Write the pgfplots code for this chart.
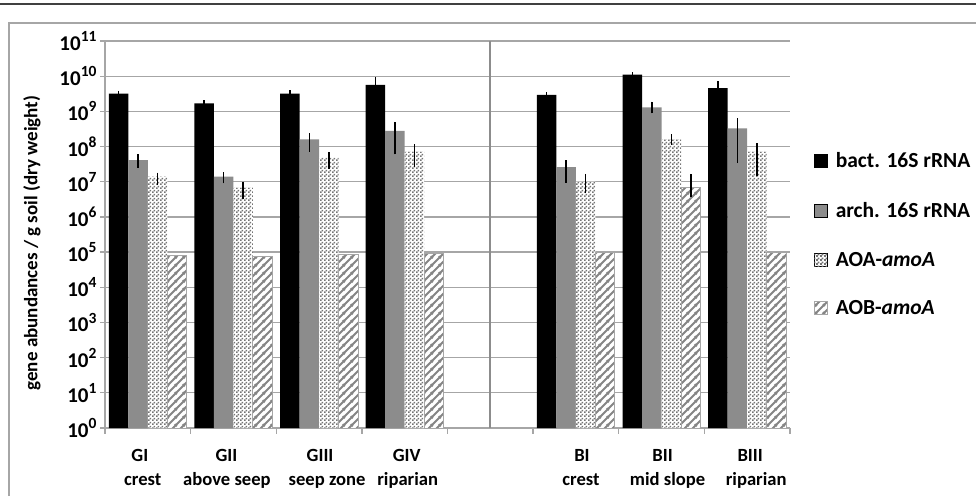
\documentclass[border=0pt]{standalone}
\usepackage{pgfplots}
\pgfplotsset{compat=1.18}
\usepackage{pgfplotstable}
\usetikzlibrary{patterns.meta}
\usepackage{fontspec}
\setmainfont{Carlito}

\tikzdeclarepattern{
  name=mycheck, type=uncolored,
  bounding box={(0pt,0pt) and (4pt,4pt)},
  tile size={(4pt,4pt)},
  code={\fill (0pt,0pt) rectangle (2.1pt,2.1pt); \fill (1.95pt,1.95pt) rectangle (4pt,4pt);}
}
\tikzdeclarepattern{
  name=myhatch, type=uncolored,
  bounding box={(0pt,0pt) and (8pt,8pt)},
  tile size={(8pt,8pt)},
  code={\draw[line width=2.1pt] (-1pt,-1pt) -- (9pt,9pt);
        \draw[line width=2.1pt] (-1pt,7pt) -- (1pt,9pt);
        \draw[line width=2.1pt] (7pt,-1pt) -- (9pt,1pt);}
}

\definecolor{gridg}{HTML}{A6A6A6}
\definecolor{barg}{HTML}{8C8C8C}
\definecolor{patg}{HTML}{858585}
\definecolor{chkfg}{HTML}{747474}

\pgfplotstableread{
x y ep em
0 3.2e9 0.6e9 0.6e9
1 1.7e9 0.34e9 0.34e9
2 3.2e9 0.8e9 0.8e9
3 5.7e9 3.6e9 3.6e9
5 2.95e9 0.6e9 0.6e9
6 1.1e10 0.19e10 0.19e10
7 4.6e9 2.8e9 2.8e9
}\bact
\pgfplotstableread{
x y ep em
0 4.1e7 1.9e7 1.65e7
1 1.4e7 0.46e7 0.5e7
2 1.6e8 0.8e8 0.88e8
3 2.8e8 2.2e8 2.2e8
5 2.6e7 1.5e7 1.67e7
6 1.3e9 0.6e9 0.43e9
7 3.3e8 3.0e8 2.96e8
}\arch
\pgfplotstableread{
x y ep em
0 1.4e7 0.42e7 0.6e7
1 6.8e6 3.2e6 3.6e6
2 4.9e7 2.2e7 2.6e7
3 7.2e7 4.5e7 4.6e7
5 1.0e7 0.66e7 0.53e7
6 1.6e8 0.64e8 0.48e8
7 7.2e7 5.4e7 5.75e7
}\aoa
\pgfplotstableread{
x y ep em
0 7.9e4 0 0
1 7.5e4 0 0
2 8.5e4 0 0
3 9.3e4 0 0
5 9.8e4 0 0
6 6.7e6 1.0e7 3.0e6
7 9.8e4 0 0
}\aob

\begin{document}
\begin{tikzpicture}
\useasboundingbox (0pt,0pt) rectangle (976pt,496pt);
\draw[black!75, line width=1.5pt] (0pt,492pt) -- (976pt,492pt);
\draw[gridg, line width=1.3pt] (9pt,0pt) -- (9pt,473pt) -- (976pt,473pt);
\begin{axis}[
  at={(105pt,68pt)}, anchor=south west,
  scale only axis, width=685pt, height=387pt,
  ymode=log, log basis y=10,
  ymin=1, ymax=1e11,
  ytick={1,1e1,1e2,1e3,1e4,1e5,1e6,1e7,1e8,1e9,1e10,1e11},
  yticklabel={\pgfmathtruncatemacro{\ee}{round(\tick)}10\raisebox{0.42em}{\fontsize{15.5}{16}\selectfont\ee}},
  yticklabel style={font=\bfseries\fontsize{21}{24}\selectfont},
  xmin=-0.5, xmax=7.5,
  xtick={0,...,7},
  xticklabels={
    {GI\hspace*{16pt}\\crest\hspace*{10pt}},
    {GII\hspace*{14pt}\\above seep\hspace*{13pt}},
    {\hspace*{2pt}GIII\\\hspace*{16pt}seep zone},
    {\hspace*{4pt}GIV\\\hspace*{6pt}riparian},
    {},
    {\hspace*{12pt}BI\\\hspace*{10pt}crest},
    {\hspace*{2pt}BII\\\hspace*{12pt}mid slope},
    {\hspace*{6pt}BIII\\\hspace*{18pt}riparian}},
  xticklabel style={align=center, font=\bfseries\fontsize{18.6}{24}\selectfont, yshift=-13pt},
  minor xtick={-0.5,0.5,...,7.5},
  extra x ticks={4}, extra x tick labels={},
  extra x tick style={xmajorgrids=true, major grid style={draw=black!45, line width=2pt}},
  every major x tick/.style={draw=none},
  every minor x tick/.style={gridg, line width=1.3pt},
  every major y tick/.style={gridg, line width=1.3pt},
  major tick length=5pt, minor tick length=6pt,
  tick align=outside,
  ymajorgrids=true,
  major grid style={gridg, line width=1.3pt},
  axis x line*=bottom, axis y line*=left,
  axis line style={gridg, line width=1.3pt, -},
  ybar=0pt, bar width=19.5pt,
  ylabel={gene abundances / g soil (dry weight)},
  ylabel style={font=\bfseries\fontsize{19}{22}\selectfont, at={(axis description cs:-0.1066,0.478)}, anchor=center, rotate=0},
  legend style={at={(1.03,0.722)}, anchor=north west, draw=none, fill=none,
    font=\bfseries\fontsize{21.5}{25}\selectfont, row sep=29pt},
  legend cell align=left,
  legend image code/.code={\draw[#1] (0pt,-6.5pt) rectangle (13pt,6.5pt); \path (19pt,0pt);},
  error bars/y dir=both, error bars/y explicit,
  error bars/error mark=none,
  error bars/error bar style={black, line width=1.6pt},
]
\addplot[fill=black, draw=none] table[x=x, y=y, y error plus=ep, y error minus=em]{\bact};
\addlegendentry{bact. 16S rRNA}
\addplot[fill=barg, draw=none] table[x=x, y=y, y error plus=ep, y error minus=em]{\arch};
\addlegendentry{arch. 16S rRNA}
\addplot[fill=white, draw=none, postaction={pattern=mycheck, pattern color=chkfg}] table[x=x, y=y, y error plus=ep, y error minus=em]{\aoa};
\addlegendentry{AOA-\textit{amoA}}
\addplot[fill=white, draw=gridg, line width=1pt, postaction={pattern=myhatch, pattern color=patg}] table[x=x, y=y, y error plus=ep, y error minus=em]{\aob};
\addlegendentry{AOB-\textit{amoA}}
\end{axis}
\end{tikzpicture}
\end{document}
